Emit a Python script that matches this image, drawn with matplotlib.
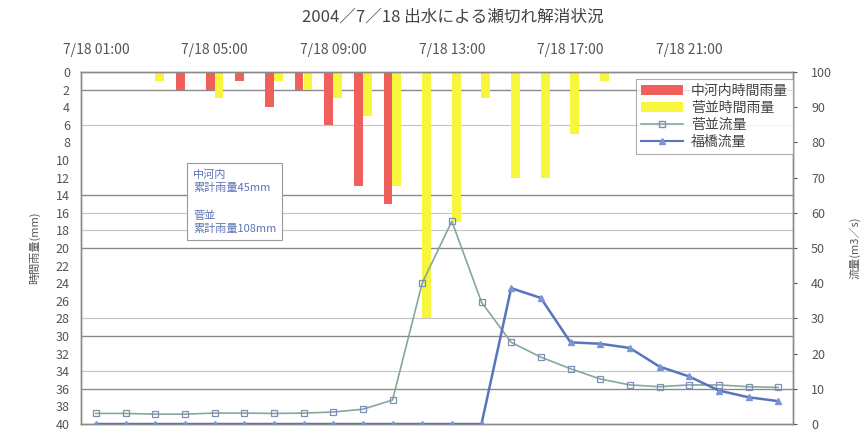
import matplotlib
matplotlib.use("Agg")
import matplotlib.pyplot as plt
import numpy as np
from matplotlib.patches import Patch
from matplotlib.lines import Line2D

plt.rcParams['font.family'] = ['Noto Sans CJK JP', 'DejaVu Sans']

# Hourly time steps 01:00 .. 24:00 on 2004/7/18
hours = list(range(24))
top_tick_pos = [0, 4, 8, 12, 16, 20]
top_tick_labels = ["7/18 01:00", "7/18 05:00", "7/18 09:00",
                   "7/18 13:00", "7/18 17:00", "7/18 21:00"]

# Hourly rainfall (mm)
rain_nakagouchi = [0, 0, 0, 2, 2, 1, 4, 2, 6, 13, 15, 0,
                   0, 0, 0, 0, 0, 0, 0, 0, 0, 0, 0, 0]
rain_suganami = [0, 0, 1, 0, 3, 0, 1, 2, 3, 5, 13, 28,
                 17, 3, 12, 12, 7, 1, 0, 0, 0, 0, 0, 0]

# Discharge (m3/s)
flow_suganami = [3.0, 3.0, 2.8, 2.8, 3.1, 3.1, 3.0, 3.1, 3.4, 4.2, 6.8, 40.0,
                 57.6, 34.6, 23.2, 19.0, 15.7, 12.8, 11.1, 10.6, 11.1, 11.1, 10.6, 10.4]
flow_fukuhashi = [0, 0, 0, 0, 0, 0, 0, 0, 0, 0, 0, 0,
                  0, 0, 38.6, 35.8, 23.2, 22.8, 21.6, 16.3, 13.5, 9.5, 7.6, 6.5]

grid_dark = [2, 14, 20, 30, 36]
grid_light = [6, 16, 18, 28, 34]

RED = '#f0605a'
YELLOW = '#f7f53c'
GREEN_LINE = '#86a89c'
BLUE_LINE = '#5874bd'
TXT = '#555555'

fig = plt.figure(figsize=(8.65, 4.33), dpi=100)
ax = fig.add_axes([81/865, 1-424/433, 712/865, 352/433])
ax2 = ax.twinx()

x = np.array(hours)
w = 0.3
ax.bar(x - w/2, rain_nakagouchi, width=w, color=RED, zorder=2)
ax.bar(x + w/2, rain_suganami, width=w, color=YELLOW, zorder=2)

for g in grid_dark:
    ax.axhline(g, color='#8a8a8a', lw=1.0, zorder=1)
for g in grid_light:
    ax.axhline(g, color='#c4c4c4', lw=0.8, zorder=1)

ax.set_xlim(-0.5, 23.5)
ax.set_ylim(40, 0)
ax.set_yticks(np.arange(0, 41, 2))
ax.tick_params(axis='y', labelsize=9, colors=TXT, length=0, pad=8)
ax.xaxis.tick_top()
ax.set_xticks(top_tick_pos)
ax.set_xticklabels(top_tick_labels)
ax.tick_params(axis='x', labelsize=10, colors=TXT, length=0, pad=11)
ax.set_ylabel("時間雨量(mm)", fontsize=8, color=TXT, labelpad=11)

ax2.plot(x, flow_suganami, color=GREEN_LINE, lw=1.2, marker='s', ms=4.5,
         mfc='none', mec='#7d8fb5', mew=0.9, zorder=3)
ax2.plot(x, flow_fukuhashi, color=BLUE_LINE, lw=1.8, marker='^', ms=4,
         mfc='#7a95d0', mec='#7a95d0', zorder=3)
ax2.set_ylim(0, 100)
ax2.set_yticks(np.arange(0, 101, 10))
ax2.tick_params(axis='y', labelsize=9, colors=TXT, length=3, pad=10)
ax2.set_ylabel("流量(m3／s)", fontsize=8, color=TXT, labelpad=12)

for a in (ax, ax2):
    for s in a.spines.values():
        s.set_color('#8a8a8a')
        s.set_linewidth(1.0)

handles = [
    Patch(facecolor=RED, edgecolor='none', label='中河内時間雨量'),
    Patch(facecolor=YELLOW, edgecolor='none', label='菅並時間雨量'),
    Line2D([], [], color=GREEN_LINE, lw=1.2, marker='s', ms=4, mfc='none',
           mec='#7d8fb5', label='菅並流量'),
    Line2D([], [], color=BLUE_LINE, lw=1.5, marker='^', ms=4, mfc='#7a95d0',
           mec='#7a95d0', label='福橋流量'),
]
leg = ax2.legend(handles=handles, loc='upper right', bbox_to_anchor=(1.0, 0.98),
                 fontsize=10, frameon=True, fancybox=False, borderpad=0.35,
                 labelspacing=0.22, handlelength=3.0, handletextpad=0.6,
                 borderaxespad=0)
leg.get_frame().set_edgecolor('#9a9a9a')
leg.get_frame().set_linewidth(0.8)
for t in leg.get_texts():
    t.set_color('#444444')

fig.text(193/865, 1-169/433,
         "中河内\n累計雨量45mm\n\n菅並\n累計雨量108mm",
         fontsize=8, color='#5b74b5', ha='left', va='top', linespacing=1.45,
         bbox=dict(boxstyle='square,pad=0.55', facecolor='white',
                   edgecolor='#9a9a9a', linewidth=0.8))

fig.text(0.524, 1-17/433, "2004／7／18 出水による瀬切れ解消状況",
         fontsize=12, color='#444444', ha='center', va='center')

fig.savefig("out.png", dpi=100)
